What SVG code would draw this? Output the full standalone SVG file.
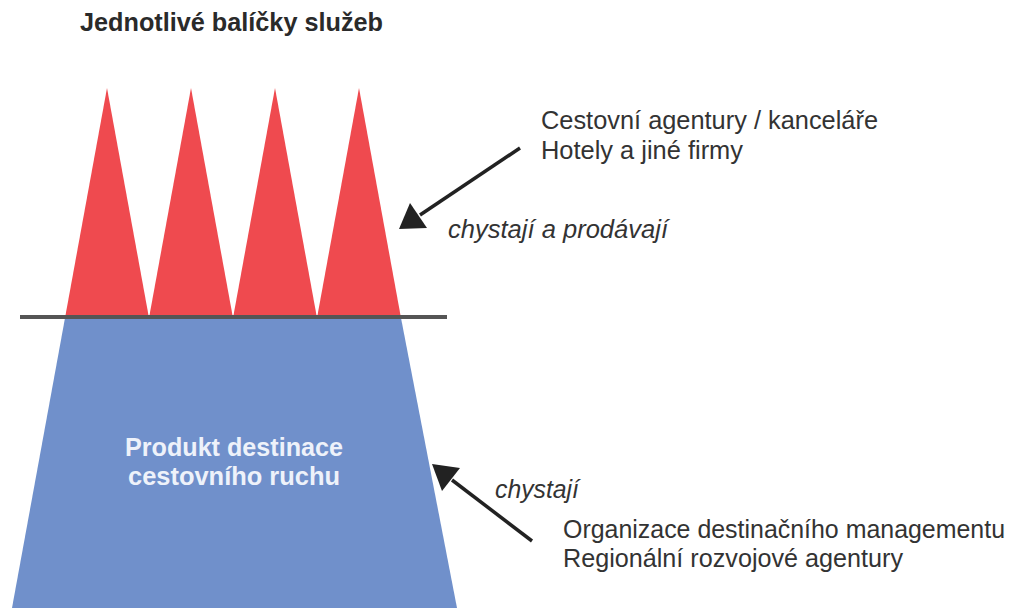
<svg xmlns="http://www.w3.org/2000/svg" width="1010" height="610" viewBox="0 0 1010 610">
<style>
.t{font-family:"Liberation Sans",Arial,sans-serif;fill:#333;font-size:25px}
.b{font-weight:bold}
.i{font-style:italic}
.w{fill:#eef2fa}
.red{fill:#ef4a4f}
.conn{stroke:#222;stroke-width:3.5;fill:none}
.head{fill:#222}
</style>
<rect width="1010" height="610" fill="#fff"/>
<text class="t b" x="80" y="31" textLength="303" lengthAdjust="spacingAndGlyphs" style="fill:#2a2a2a">Jednotlivé balíčky služeb</text>
<g id="base">
<polygon points="65,318 401,318 457,608 12,608" fill="#7090cb"/>
<text class="t b w" x="125" y="456" textLength="218" lengthAdjust="spacingAndGlyphs">Produkt destinace</text>
<text class="t b w" x="128" y="485" textLength="212" lengthAdjust="spacingAndGlyphs">cestovního ruchu</text>
</g>
<g id="peaks">
<polygon class="red" points="107,88 149,318 65,318"/>
<polygon class="red" points="191,88 233,318 149,318"/>
<polygon class="red" points="275,88 317,318 233,318"/>
<polygon class="red" points="359,88 401,318 317,318"/>
</g>
<line x1="20" y1="317" x2="447" y2="317" stroke="#555" stroke-width="4"/>
<g id="agencies">
<text class="t" x="541" y="129" textLength="337" lengthAdjust="spacingAndGlyphs">Cestovní agentury / kanceláře</text>
<text class="t" x="541" y="159" textLength="202" lengthAdjust="spacingAndGlyphs">Hotely a jiné firmy</text>
<text class="t i" x="448" y="238" textLength="220" lengthAdjust="spacingAndGlyphs">chystají a prodávají</text>
</g>
<g id="organizations">
<text class="t i" x="495" y="498" textLength="84" lengthAdjust="spacingAndGlyphs">chystají</text>
<text class="t" x="563" y="538" textLength="442" lengthAdjust="spacingAndGlyphs">Organizace destinačního managementu</text>
<text class="t" x="563" y="567" textLength="340" lengthAdjust="spacingAndGlyphs">Regionální rozvojové agentury</text>
</g>
<g id="connectors">
<line class="conn" x1="520" y1="148" x2="420" y2="215"/>
<polygon class="head" points="399,229 410,203 427,228"/>
<line class="conn" x1="532" y1="541" x2="452" y2="480"/>
<polygon class="head" points="432,464 460,468 442,491"/>
</g>
</svg>
